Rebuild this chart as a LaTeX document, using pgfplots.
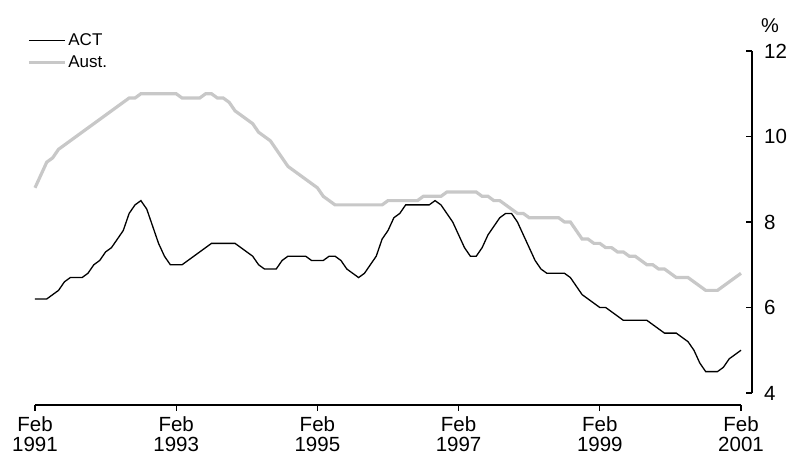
\documentclass[border=0pt]{standalone}
\usepackage{fontspec}
\setmainfont{Liberation Sans}
\usepackage{pgfplots}
\pgfplotsset{compat=1.18}
\usepackage{pgfplotstable}
\definecolor{austgray}{RGB}{200,200,200}

\pgfplotstableread{
m act aust
0 6.2 8.8
1 6.2 9.1
2 6.2 9.4
3 6.3 9.5
4 6.4 9.7
5 6.6 9.8
6 6.7 9.9
7 6.7 10.0
8 6.7 10.1
9 6.8 10.2
10 7.0 10.3
11 7.1 10.4
12 7.3 10.5
13 7.4 10.6
14 7.6 10.7
15 7.8 10.8
16 8.2 10.9
17 8.4 10.9
18 8.5 11.0
19 8.3 11.0
20 7.9 11.0
21 7.5 11.0
22 7.2 11.0
23 7.0 11.0
24 7.0 11.0
25 7.0 10.9
26 7.1 10.9
27 7.2 10.9
28 7.3 10.9
29 7.4 11.0
30 7.5 11.0
31 7.5 10.9
32 7.5 10.9
33 7.5 10.8
34 7.5 10.6
35 7.4 10.5
36 7.3 10.4
37 7.2 10.3
38 7.0 10.1
39 6.9 10.0
40 6.9 9.9
41 6.9 9.7
42 7.1 9.5
43 7.2 9.3
44 7.2 9.2
45 7.2 9.1
46 7.2 9.0
47 7.1 8.9
48 7.1 8.8
49 7.1 8.6
50 7.2 8.5
51 7.2 8.4
52 7.1 8.4
53 6.9 8.4
54 6.8 8.4
55 6.7 8.4
56 6.8 8.4
57 7.0 8.4
58 7.2 8.4
59 7.6 8.4
60 7.8 8.5
61 8.1 8.5
62 8.2 8.5
63 8.4 8.5
64 8.4 8.5
65 8.4 8.5
66 8.4 8.6
67 8.4 8.6
68 8.5 8.6
69 8.4 8.6
70 8.2 8.7
71 8.0 8.7
72 7.7 8.7
73 7.4 8.7
74 7.2 8.7
75 7.2 8.7
76 7.4 8.6
77 7.7 8.6
78 7.9 8.5
79 8.1 8.5
80 8.2 8.4
81 8.2 8.3
82 8.0 8.2
83 7.7 8.2
84 7.4 8.1
85 7.1 8.1
86 6.9 8.1
87 6.8 8.1
88 6.8 8.1
89 6.8 8.1
90 6.8 8.0
91 6.7 8.0
92 6.5 7.8
93 6.3 7.6
94 6.2 7.6
95 6.1 7.5
96 6.0 7.5
97 6.0 7.4
98 5.9 7.4
99 5.8 7.3
100 5.7 7.3
101 5.7 7.2
102 5.7 7.2
103 5.7 7.1
104 5.7 7.0
105 5.6 7.0
106 5.5 6.9
107 5.4 6.9
108 5.4 6.8
109 5.4 6.7
110 5.3 6.7
111 5.2 6.7
112 5.0 6.6
113 4.7 6.5
114 4.5 6.4
115 4.5 6.4
116 4.5 6.4
117 4.6 6.5
118 4.8 6.6
119 4.9 6.7
120 5.0 6.8
}\datatable

\begin{document}
\begin{tikzpicture}
\begin{axis}[
  name=ax,
  scale only axis,
  width=706bp, height=342bp,
  xmin=0, xmax=120, ymin=4, ymax=12,
  axis x line*=bottom, axis y line*=right,
  axis x line shift=12bp,
  axis y line shift=11bp,
  axis line style={-, line width=1.2bp, black},
  tick align=inside,
  major tick length=6bp,
  every tick/.style={black, line width=1.2bp},
  xtick={0,24,48,72,96,120},
  xticklabels={Feb\\1991,Feb\\1993,Feb\\1995,Feb\\1997,Feb\\1999,Feb\\2001},
  xtick style={yshift=-6bp},
  ytick={4,6,8,10,12},
  xticklabel style={align=center, inner sep=0pt, yshift=-11bp,
    font=\fontsize{20.5bp}{20bp}\selectfont},
  yticklabel style={inner sep=0pt, xshift=12bp,
    font=\fontsize{20.5bp}{21bp}\selectfont},
  /pgf/number format/assume math mode=true,
  clip=false,
  legend cell align=left,
  legend style={at={(axis description cs:-0.0113,1.056)}, anchor=north west,
    draw=none, fill=none, inner sep=0pt, row sep=4.5bp,
    font=\fontsize{17bp}{18bp}\selectfont},
  legend image code/.code={\draw[#1] (0bp,0bp) -- (36bp,0bp);},
]
\addplot[austgray, line width=3.2bp, forget plot] table[x=m, y=aust] {\datatable};
\addplot[black, line width=1.3bp, forget plot] table[x=m, y=act] {\datatable};
\addlegendimage{black, line width=1.3bp}
\addlegendentry{ACT}
\addlegendimage{austgray, line width=3.2bp}
\addlegendentry{Aust.}
\node[font=\fontsize{20bp}{21bp}\selectfont, inner sep=0pt] at (rel axis cs:1,1) [xshift=29bp, yshift=25bp] {\%};
\end{axis}
\path ([shift={(-35bp,-63bp)}]ax.south west) rectangle ([shift={(51bp,51bp)}]ax.north east);
\end{tikzpicture}
\end{document}
